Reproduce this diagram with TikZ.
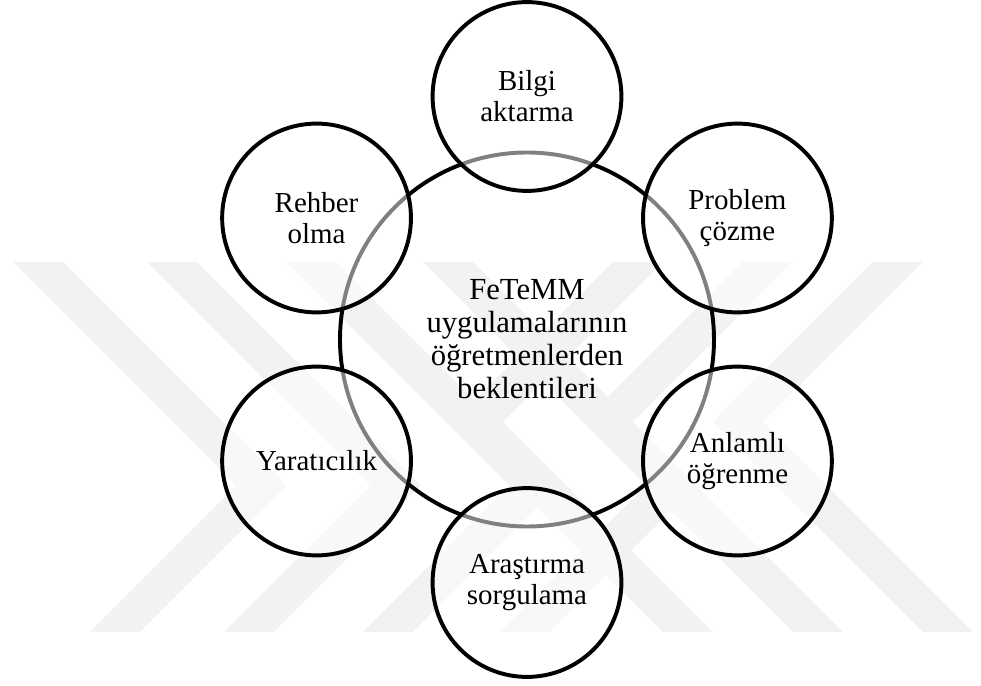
\documentclass[tikz,border=0pt]{standalone}
\usepackage{fontspec}
\setmainfont{Liberation Serif}
\usetikzlibrary{positioning, calc}
\tikzset{
    core/.style={circle, draw, line width=2.8pt, minimum size=9.35cm, inner sep=0pt,
                 align=center, font=\fontsize{21.8}{23.5}\selectfont},
    topic/.style={circle, draw, line width=2.8pt, minimum size=4.72cm, inner sep=0pt,
                  align=center, fill=white, fill opacity=0.5, draw opacity=1, text opacity=1,
                  font=\fontsize{20.6}{22}\selectfont},
    wmband/.style={fill=black!5, draw=none},
}

\begin{document}
\begin{tikzpicture}

    \useasboundingbox (0,0) rectangle (24.525,-17.15);

    % ── BACKGROUND BANDS ──
    \begin{scope}[x=0.025cm, y=-0.025cm]
        \foreach \a in {13,147,286,423}
            \fill[wmband] (\a,262) -- ({\a+223.5},485.5) -- ({\a+77},632)
                -- ({\a+127},632) -- ({\a+273.5},485.5) -- ({\a+50},262) -- cycle;
        \foreach \b in {923,793,663}
            \fill[wmband] (\b,262) -- ({\b-160},422) -- ({\b+50},632)
                -- (\b,632) -- ({\b-210},422) -- ({\b-50},262) -- cycle;
    \end{scope}

    % ── CENTRE ──
    \node[core] (core) at (13.175,-8.4875)
        {FeTeMM\\uygulamalarının\\öğretmenlerden\\beklentileri};

    % ── SATELLITES ──
    \node[topic] (bilgi)     at ([shift={(90:6.075)}]core.center)  {Bilgi\\aktarma};
    \node[topic] (problem)   at ([shift={(30:6.075)}]core.center)  {Problem\\çözme};
    \node[topic] (anlamli)   at ([shift={(-30:6.075)}]core.center) {Anlamlı\\öğrenme};
    \node[topic] (arastirma) at ([shift={(-90:6.075)}]core.center) {Araştırma\\sorgulama};
    \node[topic] (yaratici)  at ([shift={(210:6.075)}]core.center) {Yaratıcılık};
    \node[topic] (rehber)    at ([shift={(150:6.075)}]core.center) {Rehber\\olma};

\end{tikzpicture}
\end{document}
